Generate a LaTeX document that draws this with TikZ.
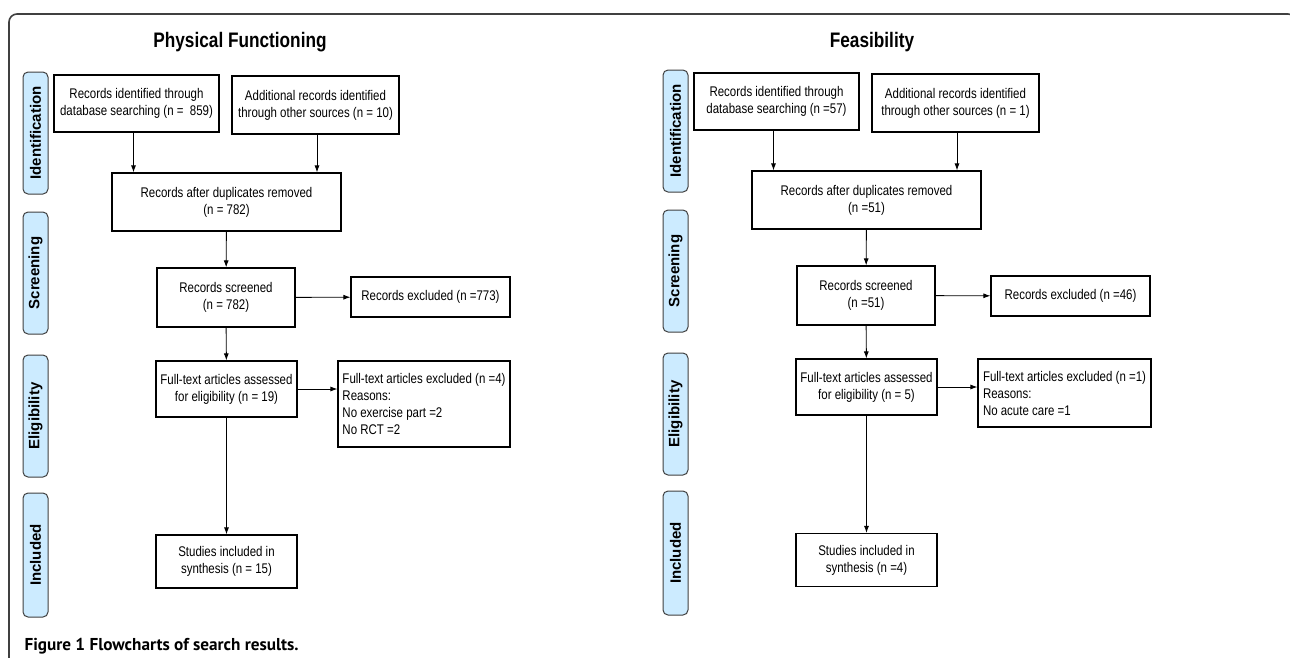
\documentclass[tikz,border=0pt]{standalone}
\usepackage{fontspec}
\setmainfont{Liberation Sans}
\newfontfamily\narrowsf[FakeStretch=0.82]{Liberation Sans}
\newfontfamily\capsf{PT Sans}
\usetikzlibrary{arrows.meta}
\definecolor{stageblue}{rgb}{0.80, 0.92, 1.0}
\definecolor{framegray}{rgb}{0.25, 0.25, 0.25}

\begin{document}
\begin{tikzpicture}[x = 1pt, y = -1pt,
  box/.style = {draw, line width = 1.1pt, inner sep = 0pt, align = center,
    font = \narrowsf\fontsize{14}{17}\selectfont},
  stage/.style = {draw = framegray, fill = stageblue, rounded corners = 5pt,
    line width = 1pt, rotate = 90, inner sep = 0pt, minimum height = 25pt,
    font = \bfseries\fontsize{15}{18}\selectfont},
  flow/.style = {-{Latex[length = 7pt, width = 5pt]}, line width = 0.9pt},
  heading/.style = {font = \narrowsf\bfseries\fontsize{21}{24}\selectfont}]

\useasboundingbox (0, 0) rectangle (1290, 657);
\clip (0, 0) rectangle (1290, 657);
\draw [line width = 1.6pt, framegray, rounded corners = 8pt]
  (9, 680) -- (9, 14) -- (1296, 14) -- (1296, 680);

% physical functioning
\node [heading] (pf-title) at (240, 42) {Physical Functioning};
\node [stage, minimum width = 122pt] (pf-ident) at (35.5, 133) {Identification};
\node [stage, minimum width = 122pt] (pf-screen) at (35.5, 273) {Screening};
\node [stage, minimum width = 122pt] (pf-elig) at (35.5, 416) {Eligibility};
\node [stage, minimum width = 124pt] (pf-incl) at (35.5, 555) {Included};

\node [box, minimum width = 165pt, minimum height = 57pt] (pf-db) at (136.5, 103.5)
  {Records identified through\\database searching (n =\ \ 859)};
\node [box, minimum width = 167pt, minimum height = 58pt] (pf-other) at (315.5, 105)
  {Additional records identified\\through other sources (n = 10)};
\node [box, minimum width = 229pt, minimum height = 58pt] (pf-dup) at (226.5, 202)
  {Records after duplicates removed\\(n = 782)};
\node [box, minimum width = 138pt, minimum height = 59pt] (pf-scr) at (226, 297.5)
  {Records screened\\(n = 782)};
\node [box, minimum width = 159pt, minimum height = 40pt] (pf-exc) at (430.5, 297)
  {Records excluded (n =773)};
\node [box, minimum width = 141pt, minimum height = 56pt] (pf-full) at (226.5, 389)
  {Full-text articles assessed\\for eligibility (n = 19)};
\node [box, align = left, minimum width = 172pt, minimum height = 86pt] (pf-excfull) at (424, 404)
  {Full-text articles excluded (n =4)\\Reasons:\\No exercise part =2\\No RCT =2};
\node [box, minimum width = 141pt, minimum height = 53pt] (pf-inc) at (226.5, 561.5)
  {Studies included in\\synthesis (n = 15)};

\draw [flow] ([xshift = -3pt]pf-db.south) -- ([xshift = -3pt]pf-db.south |- pf-dup.north);
\draw [flow] ([xshift = 1.5pt]pf-other.south) -- ([xshift = 1.5pt]pf-other.south |- pf-dup.north);
\draw [flow] (pf-dup) -- (pf-scr);
\draw [flow] (pf-scr) -- (pf-exc);
\draw [flow] (pf-scr) -- (pf-full);
\draw [flow] (pf-full.east) -- (pf-full.east -| pf-excfull.west);
\draw [flow] (pf-full) -- (pf-inc);

% feasibility
\node [heading] (fe-title) at (872, 42) {Feasibility};
\node [stage, minimum width = 122pt] (fe-ident) at (675.5, 131) {Identification};
\node [stage, minimum width = 122pt] (fe-screen) at (675.5, 271) {Screening};
\node [stage, minimum width = 122pt] (fe-elig) at (675.5, 414) {Eligibility};
\node [stage, minimum width = 124pt] (fe-incl) at (675.5, 553) {Included};

\node [box, minimum width = 165pt, minimum height = 57pt] (fe-db) at (776.5, 101.5)
  {Records identified through\\database searching (n =57)};
\node [box, minimum width = 167pt, minimum height = 58pt] (fe-other) at (955.5, 103)
  {Additional records identified\\through other sources (n = 1)};
\node [box, minimum width = 229pt, minimum height = 58pt] (fe-dup) at (866.5, 200)
  {Records after duplicates removed\\(n =51)};
\node [box, minimum width = 138pt, minimum height = 59pt] (fe-scr) at (866, 295.5)
  {Records screened\\(n =51)};
\node [box, minimum width = 159pt, minimum height = 40pt] (fe-exc) at (1070.5, 296)
  {Records excluded (n =46)};
\node [box, minimum width = 141pt, minimum height = 56pt] (fe-full) at (866.5, 387)
  {Full-text articles assessed\\for eligibility (n = 5)};
\node [box, align = left, minimum width = 173pt, minimum height = 68pt] (fe-excfull) at (1064.5, 393)
  {Full-text articles excluded (n =1)\\Reasons:\\No acute care =1};
\node [box, minimum width = 141pt, minimum height = 53pt] (fe-inc) at (866.5, 560)
  {Studies included in\\synthesis (n =4)};

\draw [flow] ([xshift = -3pt]fe-db.south) -- ([xshift = -3pt]fe-db.south |- fe-dup.north);
\draw [flow] ([xshift = 1.5pt]fe-other.south) -- ([xshift = 1.5pt]fe-other.south |- fe-dup.north);
\draw [flow] (fe-dup) -- (fe-scr);
\draw [flow] (fe-scr) -- (fe-exc);
\draw [flow] (fe-scr) -- (fe-full);
\draw [flow] (fe-full.east) -- (fe-full.east -| fe-excfull.west);
\draw [flow] (fe-full) -- (fe-inc);

\node [anchor = base west, font = \capsf\bfseries\fontsize{17.2}{20}\selectfont] (caption) at (21, 650)
  {Figure 1 Flowcharts of search results.};

\end{tikzpicture}
\end{document}
